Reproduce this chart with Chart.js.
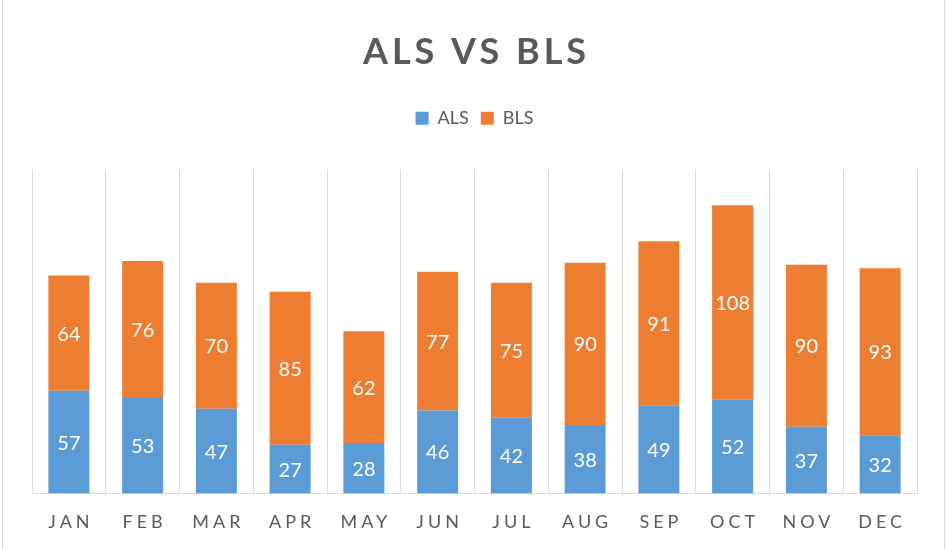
<!DOCTYPE html>
<html>
<head>
    <meta charset="UTF-8">
    <title>ALS VS BLS</title>
    <style>
        body {
            margin: 0;
            padding: 0;
            background-color: #fff;
        }
        #wrap {
            width: 946px;
            height: 549px;
        }
    </style>
</head>
<body>
    <div id="wrap"><canvas id="myChart"></canvas></div>

    <script src="https://cdn.jsdelivr.net/npm/chart.js"></script>
    <script>
        // Datos del gráfico
        var months = ['JAN', 'FEB', 'MAR', 'APR', 'MAY', 'JUN', 'JUL', 'AUG', 'SEP', 'OCT', 'NOV', 'DEC'];
        var alsValues = [57, 53, 47, 27, 28, 46, 42, 38, 49, 52, 37, 32];
        var blsValues = [64, 76, 70, 85, 62, 77, 75, 90, 91, 108, 90, 93];

        var textColor = '#595959';
        var gridColor = '#d9d9d9';

        // add letter spacing to one draw method of a chart box
        function spaced(obj, name, px) {
            if (!obj || obj['_sp_' + name]) return;
            var orig = obj[name];
            obj[name] = function () {
                var ctx = this.ctx;
                ctx.save();
                ctx.letterSpacing = px + 'px';
                ctx.translate(px / 2, 0);
                orig.apply(this, arguments);
                ctx.restore();
            };
            obj['_sp_' + name] = true;
        }

        var tweaks = {
            id: 'tweaks',
            beforeLayout: function (chart) {
                var lg = chart.legend;
                if (lg && !lg._patched) {
                    var fit = lg.fit;
                    lg.fit = function () {
                        fit.apply(this, arguments);
                        this.height += 32;
                    };
                    lg._patched = true;
                }
            },
            afterLayout: function (chart) {
                spaced(chart.titleBlock, 'draw', 4);
                spaced(chart.scales.x, 'drawLabels', 4);
            },
            beforeDraw: function (chart) {
                var ctx = chart.ctx;
                ctx.save();
                ctx.fillStyle = '#fff';
                ctx.fillRect(0, 0, chart.width, chart.height);
                ctx.strokeStyle = gridColor;
                ctx.lineWidth = 1;
                ctx.beginPath();
                ctx.moveTo(2.5, 0);
                ctx.lineTo(2.5, chart.height);
                ctx.moveTo(944.5, 0);
                ctx.lineTo(944.5, chart.height);
                ctx.stroke();
                ctx.restore();
            }
        };

        // etiquetas dentro de las barras
        var barLabels = {
            id: 'barLabels',
            afterDatasetsDraw: function (chart) {
                var ctx = chart.ctx;
                ctx.save();
                ctx.font = '20px Lato';
                ctx.fillStyle = '#fff';
                ctx.textAlign = 'center';
                ctx.textBaseline = 'middle';
                chart.data.datasets.forEach(function (ds, i) {
                    chart.getDatasetMeta(i).data.forEach(function (bar, j) {
                        ctx.fillText(ds.data[j], bar.x, (bar.y + bar.base) / 2 + 1);
                    });
                });
                ctx.restore();
            }
        };

        var ctx = document.getElementById('myChart').getContext('2d');
        var chart = new Chart(ctx, {
            type: 'bar',
            data: {
                labels: months,
                datasets: [{
                    label: 'ALS',
                    data: alsValues,
                    backgroundColor: '#5b9bd5'
                }, {
                    label: 'BLS',
                    data: blsValues,
                    backgroundColor: '#ed7d31'
                }]
            },
            options: {
                responsive: true,
                maintainAspectRatio: false,
                animation: false,
                datasets: {
                    bar: {
                        barPercentage: 0.556,
                        categoryPercentage: 1.0
                    }
                },
                layout: {
                    padding: { left: 32, right: 29, top: 0, bottom: -2 }
                },
                scales: {
                    x: {
                        stacked: true,
                        grid: {
                            color: gridColor,
                            drawTicks: false
                        },
                        border: { color: gridColor },
                        ticks: {
                            color: textColor,
                            padding: 18,
                            font: { family: 'Lato', size: 18 }
                        }
                    },
                    y: {
                        stacked: true,
                        display: false,
                        min: 0,
                        max: 180
                    }
                },
                plugins: {
                    title: {
                        display: true,
                        text: 'ALS VS BLS',
                        color: textColor,
                        font: { family: 'Lato', size: 36, weight: 'bold' },
                        padding: { top: 31, bottom: 23 }
                    },
                    legend: {
                        labels: {
                            color: textColor,
                            boxWidth: 13,
                            boxHeight: 13,
                            padding: 12,
                            font: { family: 'Lato', size: 18 }
                        }
                    },
                    tooltip: { enabled: false }
                }
            },
            plugins: [tweaks, barLabels]
        });
    </script>
</body>
</html>
